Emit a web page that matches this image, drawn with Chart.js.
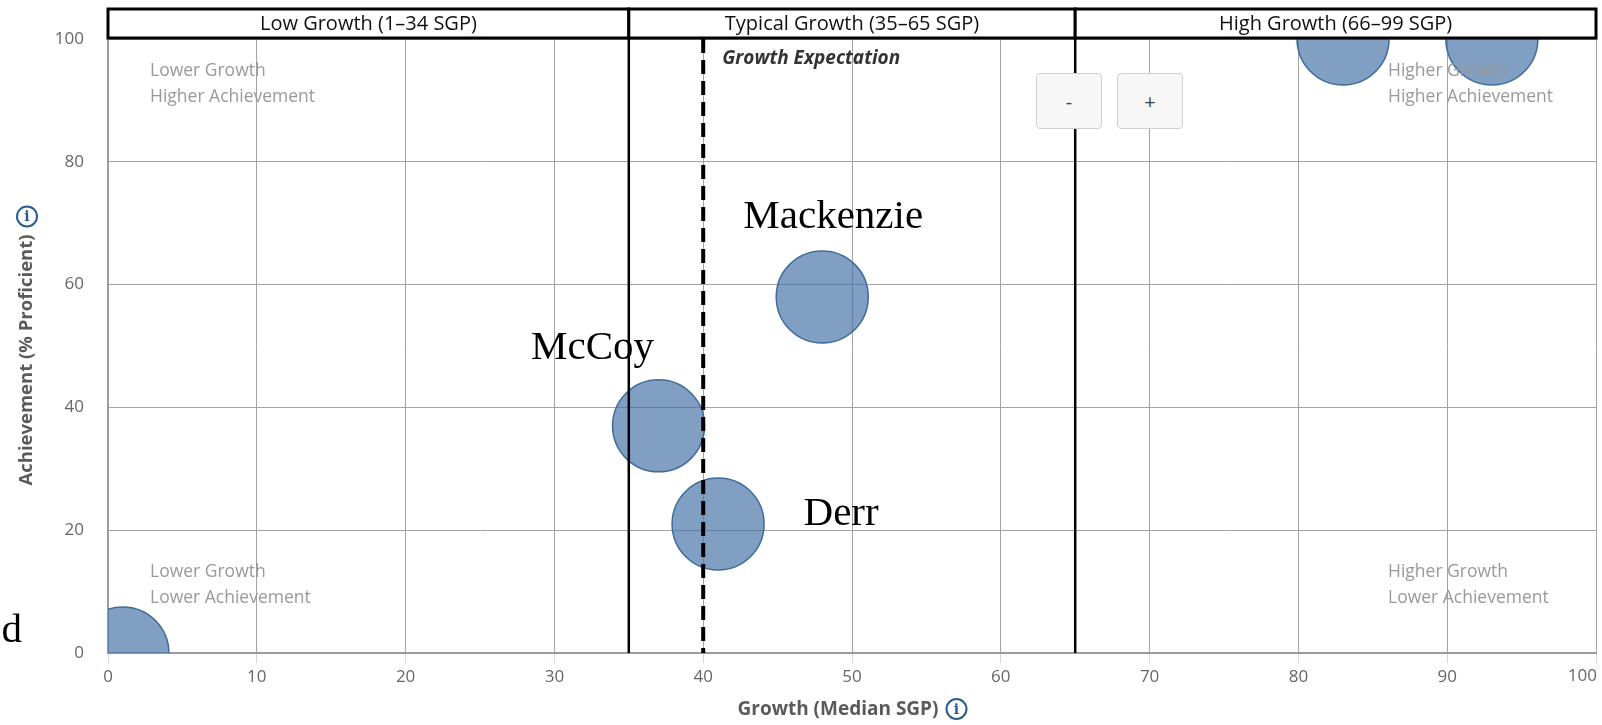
<!DOCTYPE html>
<html>
<head>
<meta charset="utf-8">
<script src="https://cdn.jsdelivr.net/npm/chart.js@4.4.0/dist/chart.umd.min.js"></script>
<style>
body { margin: 0; background: #fff; }
#wrap { position: relative; width: 1602px; height: 725px; }
.zoom {
    position: absolute; top: 73px; width: 66px; height: 56px;
    background: #f7f7f7; border: 1px solid #cfcfcf; border-radius: 4px;
    font: 20px "Open Sans", sans-serif; color: #444; padding: 0;
}
</style>
</head>
<body>
<div id="wrap">
<canvas id="chart" width="1602" height="725"></canvas>
<button class="zoom" style="left:1036px">-</button>
<button class="zoom" style="left:1117px">+</button>
</div>
<script>
// data
const names = ['d', 'McCoy', 'Derr', 'Mackenzie', '', ''];
const growth = [1, 37, 41, 48, 83, 93];
const achievement = [0, 37, 21, 58, 100, 100];
const radius = [46, 46, 46, 46, 46, 46];
const bandEdges = [0, 35, 65, 100];
const bandLabels = ['Low Growth (1\u201334 SGP)', 'Typical Growth (35\u201365 SGP)', 'High Growth (66\u201399 SGP)'];
const expectation = 40;
const quadrantLabels = [
    ['Lower Growth', 'Higher Achievement'],
    ['Higher Growth', 'Higher Achievement'],
    ['Lower Growth', 'Lower Achievement'],
    ['Higher Growth', 'Lower Achievement']
];

// label placement (pixels from bubble centre)
const nameOffsets = [[-101, -22, 'right'], [-66, -78, 'center'], [123, -10, 'center'], [11, -80, 'center'], [0, 0, 'center'], [0, 0, 'center']];

const FONT = '"Open Sans", sans-serif';
const TICK_FONT = {family: FONT, size: 17};

function infoIcon(ctx, cx, cy) {
    ctx.beginPath();
    ctx.arc(cx, cy, 10, 0, Math.PI * 2);
    ctx.strokeStyle = '#2b5d8c';
    ctx.lineWidth = 2;
    ctx.stroke();
    ctx.fillStyle = '#2b5d8c';
    ctx.font = 'bold 14px "DejaVu Serif", serif';
    ctx.textAlign = 'center';
    ctx.textBaseline = 'middle';
    ctx.fillText('i', cx, cy + 1);
}

const overlay = {
    id: 'overlay',
    afterDatasetsDraw(chart) {
        const {ctx, chartArea: a, scales: {x, y}} = chart;
        ctx.save();

        // band boundaries
        ctx.strokeStyle = '#000';
        ctx.lineWidth = 2.5;
        bandEdges.slice(1, -1).forEach(v => {
            const px = x.getPixelForValue(v);
            ctx.beginPath();
            ctx.moveTo(px, a.top);
            ctx.lineTo(px, a.bottom);
            ctx.stroke();
        });

        // growth expectation
        const ex = x.getPixelForValue(expectation);
        ctx.lineWidth = 4;
        ctx.setLineDash([14, 7]);
        ctx.beginPath();
        ctx.moveTo(ex, a.top);
        ctx.lineTo(ex, a.bottom);
        ctx.stroke();
        ctx.setLineDash([]);
        ctx.fillStyle = '#333';
        ctx.font = 'italic bold 19px ' + FONT;
        ctx.textAlign = 'left';
        ctx.textBaseline = 'middle';
        ctx.fillText('Growth Expectation', ex + 19, a.top + 20);

        // quadrant labels
        ctx.fillStyle = '#999';
        ctx.font = '17.5px ' + FONT;
        const qx = [a.left + 42, a.right - 208, a.left + 42, a.right - 208];
        const qy = [a.top + 32, a.top + 32, a.bottom - 81, a.bottom - 81];
        quadrantLabels.forEach((lines, i) => {
            lines.forEach((t, j) => ctx.fillText(t, qx[i], qy[i] + j * 26));
        });

        // names
        ctx.fillStyle = '#000';
        ctx.font = '41px "Liberation Serif", serif';
        names.forEach((n, i) => {
            if (!n) return;
            const [dx, dy, al] = nameOffsets[i];
            ctx.textAlign = al;
            ctx.fillText(n, x.getPixelForValue(growth[i]) + dx, y.getPixelForValue(achievement[i]) + dy);
        });
        ctx.restore();
    },
    afterDraw(chart) {
        const {ctx, chartArea: a, scales: {x}} = chart;
        ctx.save();

        // last x tick label sits flush with the plot edge
        ctx.font = TICK_FONT.size + 'px ' + FONT;
        ctx.fillStyle = '#666';
        ctx.textAlign = 'right';
        ctx.textBaseline = 'middle';
        ctx.fillText(String(x.max), x.getPixelForValue(x.max) + 1, a.bottom + 23);

        // header bands
        ctx.lineWidth = 3;
        ctx.strokeStyle = '#000';
        ctx.font = '20px ' + FONT;
        ctx.textAlign = 'center';
        for (let i = 0; i < bandLabels.length; i++) {
            const x0 = x.getPixelForValue(bandEdges[i]);
            const x1 = x.getPixelForValue(bandEdges[i + 1]);
            ctx.fillStyle = '#fff';
            ctx.fillRect(x0, 9, x1 - x0, 29);
            ctx.strokeRect(x0, 9, x1 - x0, 29);
            ctx.fillStyle = '#111';
            ctx.fillText(bandLabels[i], (x0 + x1) / 2, 24);
        }

        // axis titles
        ctx.font = 'bold 19px ' + FONT;
        ctx.fillStyle = '#5a5a5a';
        let t = 'Growth (Median SGP)';
        let w = ctx.measureText(t).width;
        let start = (a.left + a.right) / 2 - (w + 28) / 2;
        ctx.textAlign = 'left';
        ctx.fillText(t, start, 710);
        infoIcon(ctx, start + w + 18, 709);

        ctx.font = 'bold 18.5px ' + FONT;
        ctx.fillStyle = '#5a5a5a';
        t = 'Achievement (% Proficient)';
        w = ctx.measureText(t).width;
        const mid = (a.top + a.bottom) / 2;
        const bottom = mid + (w + 28) / 2;
        ctx.save();
        ctx.translate(27, bottom);
        ctx.rotate(-Math.PI / 2);
        ctx.textAlign = 'left';
        ctx.textBaseline = 'middle';
        ctx.fillText(t, 0, 0);
        ctx.restore();
        infoIcon(ctx, 27, bottom - w - 18);
        ctx.restore();
    }
};

new Chart(document.getElementById('chart'), {
    type: 'bubble',
    data: {
        datasets: [{
            data: growth.map((g, i) => ({x: g, y: achievement[i], r: radius[i]})),
            backgroundColor: 'rgba(69,114,167,0.68)',
            borderColor: '#3e6c9a',
            borderWidth: 1.5,
            clip: 0
        }]
    },
    options: {
        responsive: false,
        animation: false,
        events: [],
        layout: {autoPadding: false, padding: {top: 39, right: 6, left: 0, bottom: 0}},
        plugins: {legend: {display: false}, tooltip: {enabled: false}},
        scales: {
            x: {
                min: 0, max: 100,
                ticks: {
                    stepSize: 10, color: '#666', font: TICK_FONT, padding: 4,
                    callback: v => (v === 100 ? '' : v)
                },
                grid: {color: '#a3a3a3', tickColor: '#ccd6eb', tickLength: 10},
                border: {color: '#999', width: 2},
                afterFit(s) { s.height = 72; s.paddingLeft = 0; s.paddingRight = 0; }
            },
            y: {
                min: 0, max: 100,
                ticks: {stepSize: 20, color: '#666', font: TICK_FONT, padding: 24},
                grid: {color: '#a3a3a3', drawTicks: false},
                border: {color: '#999', width: 1.5},
                afterFit(s) { s.width = 108; }
            }
        }
    },
    plugins: [overlay]
});
</script>
</body>
</html>
